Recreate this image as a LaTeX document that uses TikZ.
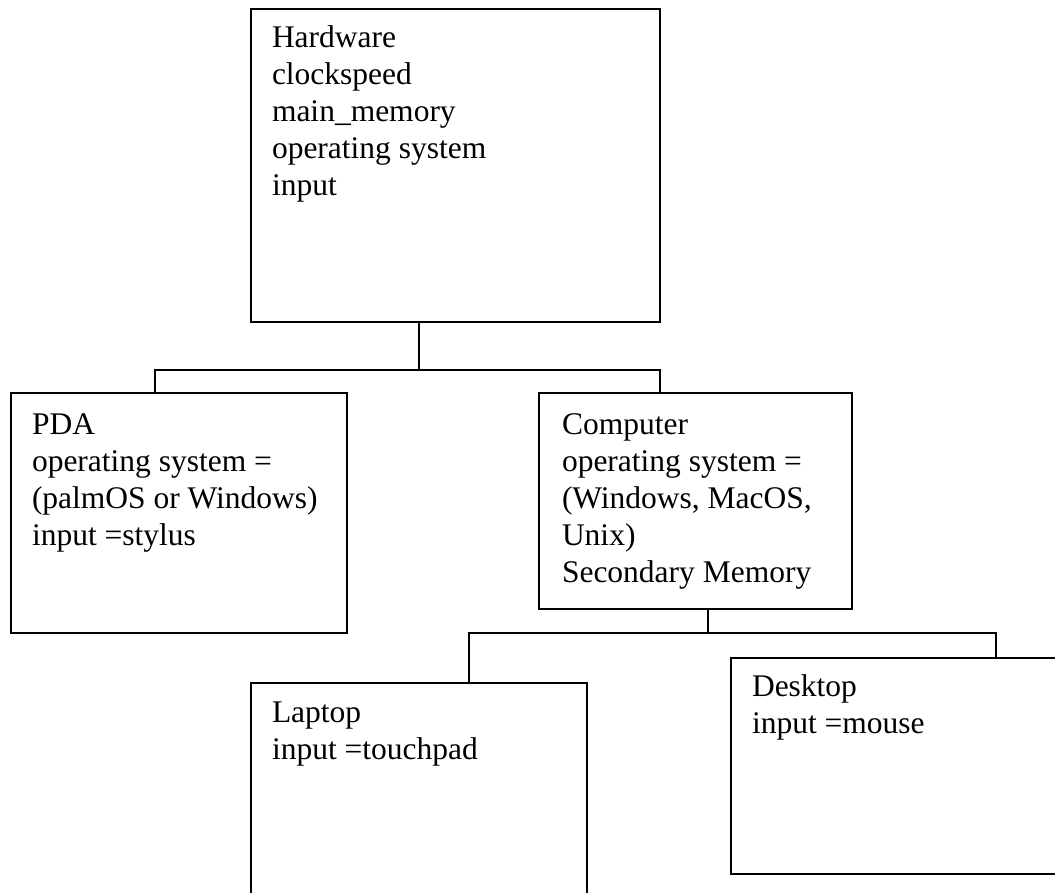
\documentclass[tikz,border=0pt]{standalone}
\usepackage{fontspec}
\setmainfont{Liberation Serif}
\tikzset{
  box/.style={draw, line width=1.7pt, rectangle, minimum width=#1, inner sep=0pt, outer sep=0pt, anchor=north west},
  conn/.style={draw, line width=1.7pt},
  txt/.style={anchor=base west, inner sep=0pt, outer sep=0pt}
}
\newcommand{\boxtext}[1]{\parbox[t]{330pt}{\fontsize{31.5}{37}\selectfont\raggedright #1}}
\begin{document}
\begin{tikzpicture}[x=1pt,y=-1pt]
\useasboundingbox (0,0) rectangle (1055,893);
\clip (0,0) rectangle (1055,893);
% boxes
\node[box=409pt, minimum height=313pt] (hw) at (251,9) {};
\node[box=336pt, minimum height=240pt] (pda) at (11,393) {};
\node[box=313pt, minimum height=216pt] (comp) at (539,393) {};
\node[box=336pt, minimum height=240pt] (lap) at (251,683) {};
\node[box=340pt, minimum height=216pt] (desk) at (731,658) {};
% texts
\node[txt] (hwt) at (272,48) {\boxtext{Hardware\\clockspeed\\main\_memory\\operating system\\input}};
\node[txt] (pdat) at (32,434) {\boxtext{PDA\\operating system =\\(palmOS or Windows)\\input =stylus}};
\node[txt] (compt) at (562,434) {\boxtext{Computer\\operating system =\\(Windows, MacOS,\\Unix)\\Secondary Memory}};
\node[txt] (lapt) at (272,722) {\boxtext{Laptop\\input =touchpad}};
\node[txt] (deskt) at (752,696) {\boxtext{Desktop\\input =mouse}};
% connector coordinates
\coordinate (hwbus) at (419,370);
\coordinate (pdadrop) at (155,370);
\coordinate (compdrop) at (660,370);
\coordinate (compbus) at (708,633);
\coordinate (lapdrop) at (469,633);
\coordinate (deskdrop) at (996,633);
% connectors
\draw[conn] (hw.south -| hwbus) -- (hwbus);
\draw[conn] (pda.north -| pdadrop) -- (pdadrop) -- (compdrop) -- (comp.north -| compdrop);
\draw[conn] (comp.south -| compbus) -- (compbus);
\draw[conn] (lap.north -| lapdrop) -- (lapdrop) -- (deskdrop) -- (desk.north -| deskdrop);
\end{tikzpicture}
\end{document}
